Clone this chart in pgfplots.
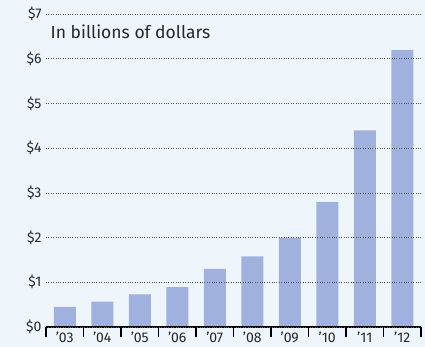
\documentclass[border=0pt]{standalone}
\usepackage{pgfplots}
\pgfplotsset{compat=1.18}
\usepackage{fontspec}
\setmainfont{Fira Sans}
\definecolor{bg}{HTML}{EFF6FB}
\definecolor{barc}{HTML}{A0B1DE}
\begin{document}
\begin{tikzpicture}
\fill[bg] (-46pt,-20pt) rectangle (379pt,327pt);
\begin{axis}[
  scale only axis,
  width=375pt, height=313pt,
  xmin=-0.5, xmax=9.5,
  ymin=0, ymax=7,
  axis x line*=bottom,
  axis y line*=left,
  x axis line style={draw=none},
  y axis line style={draw=none},
  ytick={0,1,2,3,4,5,6,7},
  yticklabels={\$0,\$1,\$2,\$3,\$4,\$5,\$6,\$7},
  ymajorgrids,
  grid style={dotted, black!65, line width=0.7pt},
  xtick={0,...,9},
  xticklabels={’03,’04,’05,’06,’07,’08,’09,’10,’11,’12},
  major x tick style={draw=none},
  major y tick style={draw=none},
  minor xtick={-0.5,0.5,...,9.5},
  minor tick length=10pt,
  minor x tick style={black, line width=1.6pt},
  tick align=outside,
  tick label style={font=\fontsize{14}{16}\selectfont, text=black!85},
  xticklabel style={yshift=-1.5pt},
  yticklabel style={xshift=-1pt},
  major tick length=0pt,
  axis on top,
  clip=false,
]
\addplot[ybar, bar width=22pt, fill=barc, draw=none] coordinates {
(0,0.45) (1,0.57) (2,0.73) (3,0.89) (4,1.30) (5,1.58) (6,2.00) (7,2.80) (8,4.40) (9,6.20)};
\draw[black, line width=1.6pt] (axis cs:-0.5,0) -- (axis cs:9.5,0);
\node[anchor=west, font=\fontsize{17.5}{20}\selectfont, text=black!85] at (axis cs:-0.47,6.6) {In billions of dollars};
\end{axis}
\end{tikzpicture}
\end{document}
